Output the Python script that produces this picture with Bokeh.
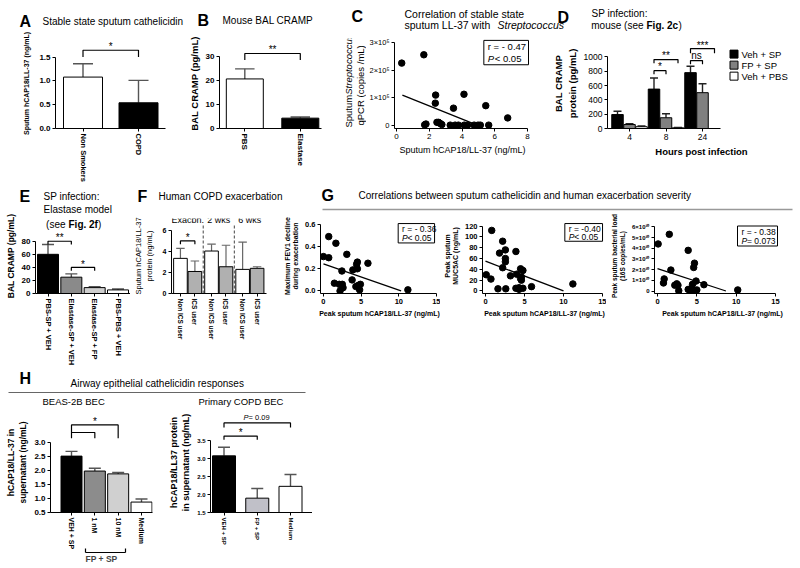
import numpy as np
from math import pi
from bokeh.plotting import figure
from bokeh.layouts import row, column
from bokeh.models import Range1d, FixedTicker, Label, BoxAnnotation, LinearAxis
from bokeh.core.properties import value
from bokeh.embed import file_html
from bokeh.resources import INLINE

FONT = "Liberation Sans"

# ---------------- data ----------------
A_cats = ["Non Smokers", "COPD"]
A_mean = [1.08, 0.54]
A_err = [1.36, 1.01]

B_cats = ["PBS", "Elastase"]
B_mean = [20.6, 4.3]
B_err = [24.8, 4.8]

C_x = [0.32, 1.67, 2.39, 2.37, 4.12, 3.48, 5.45, 6.79, 1.72, 1.80, 2.47, 2.57, 2.67, 2.77,
       3.28, 3.58, 3.78, 4.14, 4.34, 4.74, 4.98, 5.12, 5.63]
C_y = [2.25e5, 2.55e5, 1.10e5, 0.81e5, 1.13e5, 0.63e5, 0.72e5, 0.28e5, 0.03e5, 0.06e5, 0.12e5,
       0.12e5, 0.08e5, 0.04e5, 0.02e5, 0.02e5, 0.02e5, 0.02e5, 0.02e5, 0.02e5, 0.02e5, 0.02e5, 0.02e5]
C_fit_x = [0.36, 5.0]
C_fit_y = [1.1e5, 0.0]

D_hours = ["4", "8", "24"]
D_veh_sp = [195, 550, 780]
D_veh_sp_err = [240, 705, 870]
D_fp_sp = [55, 150, 500]
D_fp_sp_err = [68, 205, 625]
D_veh_pbs = [25, 10, float("nan")]
D_veh_pbs_err = [35, 15, float("nan")]
D_series = ["Veh + SP", "FP + SP", "Veh + PBS"]

E_cats = ["PBS-SP + VEH", "Elastase-SP + VEH", "Elastase-SP + FP", "PBS-PBS + VEH"]
E_mean = [60, 25, 9, 5.5]
E_err = [75, 30, 10.5, 7]

F_groups = ["Exacbn.", "2 wks", "6 wks"]
F_cats = ["Non ICS user", "ICS user"]
F_non = [3.35, 4.05, 2.3]
F_non_err = [4.3, 4.7, 4.9]
F_ics = [2.1, 2.55, 2.4]
F_ics_err = [3.1, 4.6, 2.55]

G1_x = [0.0, 0.7, 0.7, 1.65, 1.45, 2.1, 2.5, 2.45, 3.1, 2.2, 2.6, 3.8, 3.9, 4.4, 4.5, 4.5,
        4.3, 4.6, 4.9, 4.8, 5.9, 11.2]
G1_y = [0.31, 0.49, 0.30, 0.43, 0.07, 0.06, 0.06, 0.18, 0.33, 0.00, 0.03, 0.10, 0.19, 0.24,
        0.26, 0.20, 0.04, 0.05, 0.06, 0.01, 0.25, 0.01]
G1_fit_x = [0.0, 10.3]
G1_fit_y = [0.245, 0.0]

G2_x = [0.8, 0.1, 0.7, 1.6, 1.8, 2.2, 2.2, 2.55, 2.55, 2.55, 2.6, 3.2, 3.9, 4.0, 3.9, 4.3,
        4.5, 4.6, 4.5, 4.8, 4.6, 4.8, 4.3, 5.9, 11.2]
G2_y = [112, 30, 22, 4, 70, 92, 43, 76, 60, 54, 4, 28, 73, 31, 5, 3, 41, 20, 23, 38, 26, 5,
        6, 8, 13]
G2_fit_x = [0.0, 10.0]
G2_fit_y = [55.0, 0.0]

G3_x = [0.08, 1.5, 3.9, 4.7, 4.6, 1.7, 0.85, 0.76, 2.2, 2.45, 2.6, 2.7, 3.9, 4.15, 4.45,
        4.9, 5.9, 4.45, 4.75, 5.0, 4.2, 10.2]
G3_y = [4.4e10, 5.3e10, 3.8e10, 2.6e10, 2.2e10, 1.96e10, 1.13e10, 0.75e10, 0.54e10, 0.67e10,
        0.54e10, 0.03e10, 0.15e10, 0.15e10, 0.62e10, 0.93e10, 0.59e10, 0.10e10, 0.03e10,
        0.10e10, 0.0, 0.10e10]
G3_fit_x = [0.0, 8.7]
G3_fit_y = [2.1e10, 0.0]

H1_cats = ["VEH + SP", "1 nM", "10 nM", "Medium"]
H1_mean = [2.5, 1.97, 1.87, 0.87]
H1_err = [2.67, 2.07, 1.92, 0.98]
H1_group = "FP + SP"

H2_cats = ["VEH + SP", "FP + SP", "Medium"]
H2_mean = [3.08, 1.9, 2.23]
H2_err = [3.32, 2.17, 2.56]


# ---------------- helpers ----------------
def lin(m):
    pa, va, pb, vb = m
    s = (vb - va) / (pb - pa)
    return lambda px: va + (px - pa) * s


def make(X0, Y0, W, H, fl, fr, ft, fb, xmap, ymap, tsize="8px", tstyle="bold",
         lsize="8.5px", lstyle="bold"):
    gx, gy = lin(xmap), lin(ymap)
    p = figure(width=W, height=H, x_range=Range1d(gx(fl), gx(fr)),
               y_range=Range1d(gy(fb), gy(ft)),
               min_border_left=fl - X0, min_border_right=X0 + W - fr,
               min_border_top=ft - Y0, min_border_bottom=Y0 + H - fb,
               toolbar_location=None, output_backend="svg")
    p.outline_line_color = None
    p.xgrid.visible = False
    p.ygrid.visible = False
    p.background_fill_color = "white"
    p.border_fill_color = "white"
    for ax in p.axis:
        ax.axis_line_color = "black"
        ax.axis_line_width = 1
        ax.major_tick_line_color = "black"
        ax.major_tick_in = 0
        ax.major_tick_out = 3
        ax.minor_tick_line_color = None
        ax.major_label_text_font = FONT
        ax.major_label_text_font_size = tsize
        ax.major_label_text_font_style = tstyle
        ax.major_label_text_color = "black"
        ax.major_label_standoff = 2
        ax.axis_label_text_font = FONT
        ax.axis_label_text_font_size = lsize
        ax.axis_label_text_font_style = lstyle
        ax.axis_label_text_color = "black"
        ax.axis_label_standoff = 3
    return p, gx, gy


def header(X0, Y0, W, H):
    p = figure(width=W, height=H, x_range=Range1d(X0, X0 + W), y_range=Range1d(-(Y0 + H), -Y0),
               x_axis_type=None, y_axis_type=None, min_border_left=0, min_border_right=0,
               min_border_top=0, min_border_bottom=0, toolbar_location=None,
               output_backend="svg")
    p.outline_line_color = None
    p.background_fill_color = "white"
    p.border_fill_color = "white"
    return p, (lambda px: px), (lambda py: -py)


def set_ticks(ax, vals, labels):
    ax.ticker = FixedTicker(ticks=[float(v) for v in vals])
    ax.major_label_overrides = {float(v): str(l) for v, l in zip(vals, labels)}


def txt(p, x, y, text, size=10, style="normal", align="left", baseline="middle", angle=0.0,
        color="black"):
    p.add_layout(Label(x=x, y=y, text=text, text_font=FONT, text_font_size=f"{size}px",
                       text_font_style=style, text_align=align, text_baseline=baseline,
                       angle=angle, text_color=color))


def vtxt(p, x, y, text, size=10, style="normal", align="left"):
    p.text(x=[x], y=[y], text=[text], angle=pi / 2, text_font=value(FONT),
           text_font_size=f"{size}px", text_font_style=style, text_align=align,
           text_baseline="middle", text_color="black")


def bars(p, xs, tops, width, colors, bottom=0.0):
    p.vbar(x=list(xs), top=list(tops), bottom=bottom, width=width, fill_color=colors,
           line_color="black", line_width=1)


def errbars(p, xs, tops, errs, cap, color="#555555", w=1.4):
    xs = np.asarray(xs, float)
    tops = np.asarray(tops, float)
    errs = np.asarray(errs, float)
    ok = ~np.isnan(tops)
    xs, tops, errs = xs[ok], tops[ok], errs[ok]
    p.segment(x0=xs, y0=tops, x1=xs, y1=errs, line_color=color, line_width=w)
    p.segment(x0=xs - cap / 2, y0=errs, x1=xs + cap / 2, y1=errs, line_color=color, line_width=w)


def bracket(p, xa, xb, y, ya, yb, w=1.2):
    p.line(x=[xa, xa, xb, xb], y=[ya, y, y, yb], line_color="black", line_width=w)


def box(p, l, r, t, b):
    p.add_layout(BoxAnnotation(left=l, right=r, top=t, bottom=b, fill_color="white",
                               fill_alpha=1.0, line_color="black", line_width=1,
                               line_alpha=1.0))


# ---------------- Row 1 header ----------------
h1, hx, hy = header(0, 0, 798, 32)
txt(h1, hx(19), hy(21), "A", 16, "bold")
txt(h1, hx(42), hy(21), "Stable state sputum cathelicidin", 10)
txt(h1, hx(197), hy(20), "B", 16, "bold")
txt(h1, hx(222), hy(20), "Mouse BAL CRAMP", 10)
txt(h1, hx(351), hy(16), "C", 16, "bold")
txt(h1, hx(404), hy(13), "Correlation of stable state", 10.5)
txt(h1, hx(404), hy(24), "sputum LL-37 with", 10.5)
txt(h1, hx(497), hy(24), "Streptococcus", 10.5, "italic")
txt(h1, hx(557), hy(17), "D", 16, "bold")
txt(h1, hx(591), hy(13), "SP infection:", 10)
txt(h1, hx(643), hy(25), "mouse (see", 10, align="right")
txt(h1, hx(646), hy(25), "Fig. 2c", 10, "bold")
txt(h1, hx(678), hy(25), ")", 10)

# ---------------- Panel A ----------------
pA, gx, gy = make(0, 32, 185, 152, 55, 165, 38, 130, (82.5, 0, 138, 1), (130, 0, 57, 1.5),
                  lsize="7px")
xA = np.arange(len(A_cats))
errbars(pA, xA, A_mean, A_err, cap=gx(20) - gx(0))
bars(pA, xA, A_mean, gx(39) - gx(0), ["white", "black"])
set_ticks(pA.yaxis[0], [0, 0.5, 1.0, 1.5], ["0.0", "0.5", "1.0", "1.5"])
pA.yaxis[0].bounds = (0, 1.5)
set_ticks(pA.xaxis[0], xA, A_cats)
pA.xaxis[0].major_label_orientation = "vertical"
pA.xaxis[0].major_label_text_font_size = "7.5px"
pA.yaxis[0].axis_label = "Sputum hCAP18/LL-37 (ng/mL)"
pA.yaxis[0].axis_label_standoff = 6
bracket(pA, xA[0], xA[1], gy(50), gy(57), gy(57))
txt(pA, (xA[0] + xA[1]) / 2, gy(46), "*", 10, align="center")

# ---------------- Panel B (its frame also hosts the y-axis title of panel C) ----------------
pB, gx, gy = make(185, 32, 181, 152, 215, 366, 34, 130, (241, 0, 298, 1), (130, 0, 53, 30))
xB = np.arange(len(B_cats))
errbars(pB, xB, B_mean, B_err, cap=gx(20) - gx(0))
bars(pB, xB, B_mean, gx(38) - gx(0), ["white", "black"])
set_ticks(pB.yaxis[0], [0, 10, 20, 30], ["0", "10", "20", "30"])
pB.yaxis[0].bounds = (0, 30)
set_ticks(pB.xaxis[0], xB, B_cats)
pB.xaxis[0].bounds = (gx(215), gx(320))
pB.xaxis[0].major_label_orientation = "vertical"
pB.yaxis[0].axis_label = "BAL CRAMP (pg/mL)"
pB.yaxis[0].axis_label_text_font_size = "9.5px"
bracket(pB, xB[0], xB[1], gy(50), gy(57), gy(57))
txt(pB, (xB[0] + xB[1]) / 2, gy(46), "**", 10, align="center")
vtxt(pB, gx(348), gy(129), "Sputum", 9.5)
vtxt(pB, gx(348), gy(94), "Streptococcus", 9.5, "italic")
vtxt(pB, gx(360), gy(84), "qPCR (copies /mL)", 9.5, align="center")

# ---------------- Panel C ----------------
pC, gx, gy = make(366, 32, 184, 152, 393, 530, 36, 132, (395, 0, 527, 8), (129, 0, 40, 3e5),
                  tsize="8px", tstyle="normal", lsize="9px", lstyle="normal")
set_ticks(pC.yaxis[0], [0, 1e5, 2e5, 3e5], ["0", "1\u00d710\u2075", "2\u00d710\u2075", "3\u00d710\u2075"])
pC.yaxis[0].bounds = (gy(132), 3e5)
pC.yaxis[0].major_label_text_font_size = "7.5px"
set_ticks(pC.xaxis[0], [0, 2, 4, 6, 8], ["0", "2", "4", "6", "8"])
pC.xaxis[0].bounds = (gx(393), 8)
pC.xaxis[0].axis_label = "Sputum hCAP18/LL-37 (ng/mL)"
pC.line(C_fit_x, C_fit_y, line_color="black", line_width=1.3)
pC.scatter(C_x, C_y, size=6.5, fill_color="black", line_color="black")
box(pC, gx(483), gx(528), gy(38), gy(64))
txt(pC, gx(487), gy(45), "r = - 0.47", 9.5)
txt(pC, gx(487), gy(57), "P", 9.5, "italic")
txt(pC, gx(494), gy(57), " < 0.05", 9.5)

# ---------------- Panel D ----------------
pD, gx, gy = make(550, 32, 248, 152, 607, 795, 32, 130, (629, 0, 702, 2), (130, 0, 52, 1000),
                  tsize="8.5px", tstyle="normal", lsize="9.5px")
xD = np.arange(len(D_hours))
off = gx(12) - gx(0)
bw = gx(11.5) - gx(0)
cap = gx(8) - gx(0)
errbars(pD, xD - off, D_veh_sp, D_veh_sp_err, cap, color="#222222")
errbars(pD, xD, D_fp_sp, D_fp_sp_err, cap, color="#222222")
errbars(pD, xD + off, D_veh_pbs, D_veh_pbs_err, cap, color="#222222")
D_colors = ["black", "#808080", "white"]
bars(pD, xD - off, D_veh_sp, bw, D_colors[0])
bars(pD, xD, D_fp_sp, bw, D_colors[1])
bars(pD, xD + off, D_veh_pbs, bw, D_colors[2])
set_ticks(pD.yaxis[0], [0, 200, 400, 600, 800, 1000], ["0", "200", "400", "600", "800", "1000"])
pD.yaxis[0].bounds = (0, 1000)
set_ticks(pD.xaxis[0], xD, D_hours)
pD.xaxis[0].bounds = (gx(607), gx(720))
pD.yaxis[0].axis_label = "BAL CRAMP\nprotein (pg/mL)"
pD.xaxis[0].axis_label = "Hours post infection"
bracket(pD, 1 - off, 1, gy(67), gy(71), gy(71))
txt(pD, 1 - off / 2, gy(63), "*", 10, align="center")
bracket(pD, 1 - off, 1 + off, gy(55), gy(59), gy(59))
txt(pD, 1, gy(51), "**", 10, align="center")
bracket(pD, 2 - off, 2, gy(56), gy(60), gy(60))
txt(pD, 2 - off / 2, gy(50), "ns", 10, align="center")
bracket(pD, 2 - off, 2 + off, gy(43), gy(48), gy(48))
txt(pD, 2, gy(40), "***", 10, align="center")
pD.scatter(x=[gx(733.5)] * 3, y=[gy(49), gy(61), gy(73)], marker="square", size=8,
           fill_color=D_colors, line_color="black")
for i, name in enumerate(D_series):
    txt(pD, gx(741), gy(49 + 12 * i), name, 9.5)

# ---------------- Row 2 header ----------------
h2, hx, hy = header(0, 184, 798, 30)
txt(h2, hx(19), hy(196), "E", 16, "bold")
txt(h2, hx(43), hy(196), "SP infection:", 10)
txt(h2, hx(43), hy(209), "Elastase model", 10)
txt(h2, hx(137), hy(196), "F", 16, "bold")
txt(h2, hx(158), hy(196), "Human COPD exacerbation", 10)
txt(h2, hx(321), hy(195), "G", 16, "bold")
txt(h2, hx(358), hy(195), "Correlations between sputum cathelicidin and human exacerbation severity", 10)
h2.line([hx(322), hx(792)], [hy(209), hy(209)], line_color="#999999", line_width=1.5)

# ---------------- Panel E ----------------
pE, gx, gy = make(0, 214, 130, 154, 35, 130, 216, 305, (47.5, 0, 117.5, 3), (305, 0, 243, 80))
xE = np.arange(len(E_cats))
errbars(pE, xE, E_mean, E_err, cap=gx(12) - gx(0))
bars(pE, xE, E_mean, gx(21) - gx(0), ["black", "#8a8a8a", "#cfcfcf", "white"])
set_ticks(pE.yaxis[0], [0, 20, 40, 60, 80], ["0", "20", "40", "60", "80"])
pE.yaxis[0].bounds = (0, 80)
set_ticks(pE.xaxis[0], xE, E_cats)
pE.xaxis[0].major_label_orientation = "vertical"
pE.xaxis[0].major_label_text_font_size = "7.5px"
pE.yaxis[0].axis_label = "BAL CRAMP (pg/mL)"
bracket(pE, xE[0], xE[1], gy(243), gy(247), gy(247))
txt(pE, (xE[0] + xE[1]) / 2, gy(239), "**", 10, align="center")
bracket(pE, xE[1], xE[2], gy(274), gy(278), gy(278))
txt(pE, (xE[1] + xE[2]) / 2, gy(270), "*", 10, align="center")
txt(pE, gx(65), gy(223), "(see", 10, align="right")
txt(pE, gx(68), gy(223), "Fig. 2f", 10, "bold")
txt(pE, gx(97.5), gy(223), ")", 10)

# ---------------- Panel F ----------------
pF, gx, gy = make(130, 214, 150, 154, 165, 266, 216, 303, (174.5, 0, 256, 5.3), (303, 0, 230, 6),
                  tsize="7px", lsize="7.5px", lstyle="normal")
gstep = 2.15
xF_non = np.arange(len(F_groups)) * gstep
xF_ics = xF_non + 1
fbw = gx(14.5) - gx(0)
errbars(pF, xF_non, F_non, F_non_err, cap=gx(9) - gx(0), color="#666666", w=1.2)
errbars(pF, xF_ics, F_ics, F_ics_err, cap=gx(9) - gx(0), color="#666666", w=1.2)
bars(pF, xF_non, F_non, fbw, "white")
bars(pF, xF_ics, F_ics, fbw, "#b0b0b0")
set_ticks(pF.yaxis[0], [0, 2, 4, 6], ["0", "2", "4", "6"])
pF.yaxis[0].bounds = (0, 6)
fx = list(np.ravel(np.column_stack([xF_non, xF_ics])))
set_ticks(pF.xaxis[0], fx, F_cats * len(F_groups))
pF.xaxis[0].major_label_orientation = "vertical"
pF.xaxis[0].major_label_text_font_size = "6.5px"
pF.yaxis[0].axis_label = "Sputum hCAP18/LL-37\nprotein (ng/mL)"
pF.yaxis[0].axis_label_standoff = 6
for g in range(len(F_groups) - 1):
    xd = (xF_ics[g] + xF_non[g + 1]) / 2
    pF.line([xd, xd], [0, gy(222)], line_color="#444444", line_width=1, line_dash="3 2")
for g, name in enumerate(F_groups):
    txt(pF, (xF_non[g] + xF_ics[g]) / 2, gy(218), name, 9, align="center")
bracket(pF, xF_non[0], xF_ics[0], gy(242), gy(246), gy(246))
txt(pF, (xF_non[0] + xF_ics[0]) / 2, gy(238), "*", 10, align="center")

# ---------------- Panel G ----------------
pG1, gx, gy = make(280, 214, 160, 154, 318, 438, 216, 305, (321, 0, 436, 15), (302, 0, 223, 0.6),
                   tsize="7.5px", lsize="7px")
pG1.line(G1_fit_x, G1_fit_y, line_color="black", line_width=1.3)
pG1.scatter(G1_x, G1_y, size=6.5, fill_color="black", line_color="black")
set_ticks(pG1.yaxis[0], [0, 0.2, 0.4, 0.6], ["0.0", "0.2", "0.4", "0.6"])
pG1.yaxis[0].bounds = (gy(305), 0.6)
set_ticks(pG1.xaxis[0], [0, 5, 10, 15], ["0", "5", "10", "15"])
pG1.xaxis[0].bounds = (gx(318), 15)
pG1.yaxis[0].axis_label = "Maximum FEV1 decline\nduring exacerbation"
pG1.xaxis[0].axis_label = "Peak sputum hCAP18/LL-37 (ng/mL)"
box(pG1, gx(397), gx(434), gy(222), gy(245))
txt(pG1, gx(401), gy(228.5), "r = - 0.36", 8.5)
txt(pG1, gx(401), gy(239), "P", 8.5, "italic")
txt(pG1, gx(406.5), gy(239), " < 0.05", 8.5)

pG2, gx, gy = make(440, 214, 166, 154, 481, 606, 216, 305, (484, 0, 602, 15), (302, 0, 225, 120),
                   tsize="7.5px", lsize="7px")
pG2.line(G2_fit_x, G2_fit_y, line_color="black", line_width=1.3)
pG2.scatter(G2_x, G2_y, size=6.5, fill_color="black", line_color="black")
set_ticks(pG2.yaxis[0], [0, 20, 40, 60, 80, 100, 120], ["0", "20", "40", "60", "80", "100", "120"])
pG2.yaxis[0].bounds = (gy(305), 120)
set_ticks(pG2.xaxis[0], [0, 5, 10, 15], ["0", "5", "10", "15"])
pG2.xaxis[0].bounds = (gx(481), 15)
pG2.yaxis[0].axis_label = "Peak sputum\nMUC5AC (ng/mL)"
pG2.xaxis[0].axis_label = "Peak sputum hCAP18/LL-37 (ng/mL)"
box(pG2, gx(564), gx(602), gy(222), gy(243))
txt(pG2, gx(568), gy(228), "r = -0.40", 8.5)
txt(pG2, gx(568), gy(238), "P", 8.5, "italic")
txt(pG2, gx(573.5), gy(238), " < 0.05", 8.5)

pG3, gx, gy = make(606, 214, 192, 154, 654, 790, 218, 308, (657, 0, 775, 15), (305, 0, 228, 6e10),
                   tsize="6px", lsize="6.5px")
pG3.line(G3_fit_x, G3_fit_y, line_color="black", line_width=1.3)
pG3.scatter(G3_x, G3_y, size=6.5, fill_color="black", line_color="black")
g3t = [0, 1e10, 2e10, 3e10, 4e10, 5e10, 6e10]
set_ticks(pG3.yaxis[0], g3t, ["0"] + [f"{i}\u00d710\u00b9\u2070" for i in range(1, 7)])
pG3.yaxis[0].bounds = (gy(308), 6e10)
set_ticks(pG3.xaxis[0], [0, 5, 10, 15], ["0", "5", "10", "15"])
pG3.xaxis[0].major_label_text_font_size = "7.5px"
pG3.xaxis[0].bounds = (gx(654), 15)
pG3.xaxis[0].axis_label_text_font_size = "7px"
pG3.yaxis[0].axis_label = "Peak sputum bacterial load\n(16S copies/mL)"
pG3.xaxis[0].axis_label = "Peak sputum hCAP18/LL-37 (ng/mL)"
box(pG3, gx(737), gx(777), gy(227), gy(251))
txt(pG3, gx(741), gy(234), "r = - 0.38", 8.5)
txt(pG3, gx(741), gy(245), "P", 8.5, "italic")
txt(pG3, gx(746.5), gy(245), " = 0.073", 8.5)

# ---------------- Panel H ----------------
pHh, hx, hy = header(0, 368, 312, 40)
txt(pHh, hx(19), hy(378), "H", 16, "bold")
txt(pHh, hx(70), hy(383), "Airway epithelial cathelicidin responses", 10)
pHh.line([hx(8), hx(305)], [hy(392), hy(392)], line_color="#666666", line_width=1.2)
txt(pHh, hx(42), hy(401), "BEAS-2B BEC", 9.5)
txt(pHh, hx(198), hy(401), "Primary COPD BEC", 9.5)

pH1, gx, gy = make(0, 408, 160, 158, 50, 152, 412, 517, (71, 0, 141, 3), (517, 0.5, 443, 3.0),
                   tsize="8px", lsize="8.5px")
xH1 = np.arange(len(H1_cats))
errbars(pH1, xH1, H1_mean, H1_err, cap=gx(12) - gx(0))
bars(pH1, xH1, H1_mean, gx(21) - gx(0), ["black", "#8c8c8c", "#d0d0d0", "white"], bottom=0.5)
set_ticks(pH1.yaxis[0], [0.5, 1.0, 1.5, 2.0, 2.5, 3.0], ["0.5", "1.0", "1.5", "2.0", "2.5", "3.0"])
pH1.yaxis[0].bounds = (0.5, 3.0)
set_ticks(pH1.xaxis[0], xH1, H1_cats)
pH1.xaxis[0].major_label_orientation = "vertical"
pH1.xaxis[0].major_label_text_font_size = "7px"
pH1.yaxis[0].axis_label = "hCAP18/LL-37 in\nsupernatant (ng/mL)"
bracket(pH1, xH1[0], xH1[1], gy(433), gy(433), gy(439))
bracket(pH1, xH1[0], xH1[2], gy(425), gy(439), gy(439))
txt(pH1, (xH1[0] + xH1[2]) / 2, gy(421), "*", 10, align="center")
fpa, fpb = xH1[1] - (gx(9) - gx(0)), xH1[2] + (gx(7) - gx(0))
grp_axis = LinearAxis(bounds=(fpa, fpb), ticker=FixedTicker(ticks=[fpa, fpb]),
                      major_label_overrides={fpa: "", fpb: ""},
                      major_label_text_font_size="1px", major_label_standoff=0,
                      major_tick_in=4, major_tick_out=0, major_tick_line_width=1.2,
                      minor_tick_line_color=None, axis_line_width=1.2,
                      axis_label=H1_group, axis_label_text_font=FONT,
                      axis_label_text_font_style="bold", axis_label_text_font_size="8.5px",
                      axis_label_standoff=1)
pH1.add_layout(grp_axis, "below")

pH2, gx, gy = make(160, 408, 152, 158, 210, 312, 412, 518, (223.5, 0, 290, 2), (518, 1.5, 442, 3.5),
                   tsize="6px", lsize="9px")
xH2 = np.arange(len(H2_cats))
errbars(pH2, xH2, H2_mean, H2_err, cap=gx(12) - gx(0))
bars(pH2, xH2, H2_mean, gx(23) - gx(0), ["black", "#c0c0c8", "white"], bottom=1.5)
set_ticks(pH2.yaxis[0], [1.5, 2.0, 2.5, 3.0, 3.5], ["1.5", "2.0", "2.5", "3.0", "3.5"])
pH2.yaxis[0].bounds = (1.5, 3.5)
set_ticks(pH2.xaxis[0], xH2, H2_cats)
pH2.xaxis[0].major_label_orientation = "vertical"
pH2.yaxis[0].axis_label = "hCAP18/LL37 protein\nin supernatant (ng/mL)"
bracket(pH2, xH2[0], xH2[1], gy(437), gy(441), gy(441))
txt(pH2, (xH2[0] + xH2[1]) / 2, gy(433), "*", 10, align="center")
bracket(pH2, xH2[0], xH2[2], gy(423), gy(428), gy(428))
txt(pH2, gx(243), gy(417), "P", 7.5, "italic")
txt(pH2, gx(248), gy(417), " = 0.09", 7.5)

# ---------------- layout ----------------
layout = column(
    h1,
    row(pA, pB, pC, pD),
    h2,
    row(pE, pF, pG1, pG2, pG3),
    column(pHh, row(pH1, pH2)),
)
open("out.html", "w").write(file_html(layout, INLINE))
